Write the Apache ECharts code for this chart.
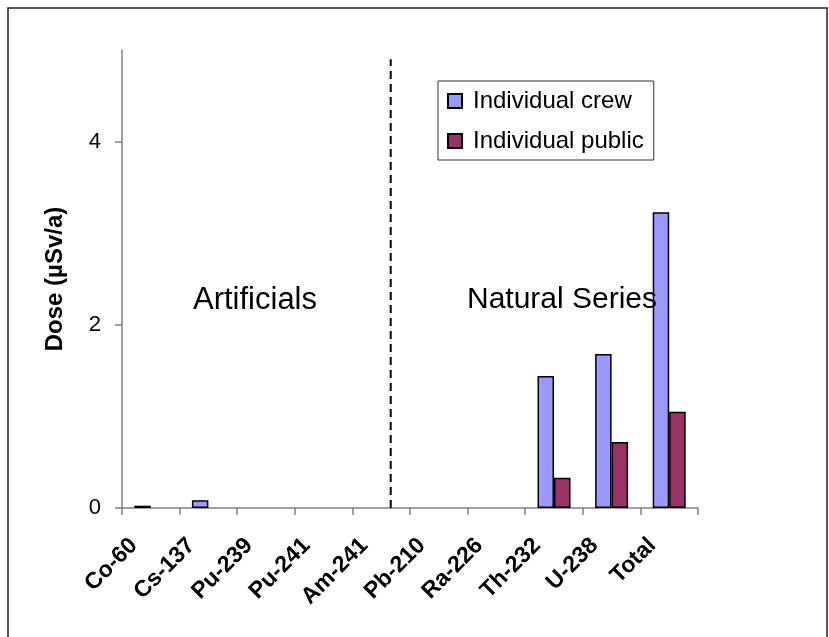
<!DOCTYPE html>
<html>
<head>
<meta charset="utf-8">
<script src="https://cdn.jsdelivr.net/npm/echarts@6/dist/echarts.min.js"></script>
<style>
    html, body { margin: 0; padding: 0; background: #fff; }
    #containerDose { width: 829px; height: 637px; }
</style>
</head>
<body>
<div id="containerDose"></div>
<script>
/// dados
var $nuclideos = ['Co-60', 'Cs-137', 'Pu-239', 'Pu-241', 'Am-241', 'Pb-210', 'Ra-226', 'Th-232', 'U-238', 'Total'];
var $crew = [0.025, 0.085, 0, 0, 0, 0, 0, 1.44, 1.68, 3.23];
var $publico = [0, 0, 0, 0, 0, 0, 0, 0.33, 0.72, 1.05];
var $yTicks = [0, 2, 4];
var $nomesLegenda = ['Individual crew', 'Individual public'];
var $divisao = [[4.665, 0], [4.665, 4.9]]; // linha tracejada entre artificiais e naturais

var $fonte = "'Liberation Sans', Arial, sans-serif";

// zero = sem barra (senao a borda preta aparece em cima do eixo)
function semZero(arr) {
    return arr.map(function (v) { return v === 0 ? '-' : v; });
}

var chartOption = {
    backgroundColor: '#fff',
    animation: false,
    textStyle: {
        fontFamily: $fonte,
        color: '#000',
    },
    grid: {
        left: 122,
        top: 50,
        width: 576,
        bottom: 129,
        containLabel: false,
    },
    legend: {
        data: $nomesLegenda,
        orient: 'vertical',
        left: 438,
        top: 81,
        width: 214,
        height: 79,
        padding: [8, 10, 7, 9],
        itemWidth: 14,
        itemHeight: 14,
        itemGap: 16,
        icon: 'rect',
        borderColor: '#333',
        borderWidth: 1,
        textStyle: {
            fontSize: 24,
            lineHeight: 24,
            color: '#000',
            padding: [0, 0, 0, 6],
        },
    },
    xAxis: [{
        type: 'category',
        data: $nuclideos,
        axisLine: {
            lineStyle: { color: '#808080', width: 1.5 },
        },
        axisTick: {
            show: true,
            interval: 0,
            length: 7,
            lineStyle: { color: '#808080', width: 1.5 },
        },
        axisLabel: {
            interval: 0,
            rotate: 45,
            margin: 17,
            fontSize: 23,
            fontWeight: 'bold',
            color: '#000',
            padding: [0, 24, 0, 0],
        },
        splitLine: { show: false },
    }, {
        // eixo escondido so para posicionar a linha tracejada
        type: 'value',
        min: 0,
        max: 10,
        show: false,
    }],
    yAxis: {
        type: 'value',
        min: 0,
        max: 5,
        interval: 2,
        name: 'Dose (µSv/a)',
        nameLocation: 'middle',
        nameRotate: 90,
        nameGap: 55,
        nameTextStyle: {
            fontSize: 24,
            fontWeight: 'bold',
            color: '#000',
        },
        axisLine: {
            show: true,
            lineStyle: { color: '#808080', width: 1.5 },
        },
        axisTick: {
            show: true,
            length: 7,
            customValues: $yTicks,
            lineStyle: { color: '#808080', width: 1.5 },
        },
        axisLabel: {
            customValues: $yTicks,
            margin: 21,
            fontSize: 22,
            color: '#000',
        },
        splitLine: { show: false },
    },
    graphic: [{
        type: 'rect',
        shape: { x: 8, y: 8, width: 819, height: 640 },
        style: { fill: 'none', stroke: '#222', lineWidth: 1.5 },
        silent: true,
    }, {
        type: 'text',
        x: 255,
        y: 300,
        z: 100,
        style: {
            text: 'Artificials',
            fontSize: 31,
            fontFamily: $fonte,
            fill: '#000',
            textAlign: 'center',
            textVerticalAlign: 'middle',
        },
    }, {
        type: 'text',
        x: 562,
        y: 300,
        z: 100,
        style: {
            text: 'Natural Series',
            fontSize: 30,
            fontFamily: $fonte,
            fill: '#000',
            textAlign: 'center',
            textVerticalAlign: 'middle',
        },
    }],
    series: [{
        name: $nomesLegenda[0],
        type: 'bar',
        data: semZero($crew),
        barWidth: 16.5,
        barGap: '0%',
        itemStyle: {
            color: '#9999FF',
            borderColor: '#000',
            borderWidth: 1.5,
        },
    }, {
        name: $nomesLegenda[1],
        type: 'bar',
        data: semZero($publico),
        barWidth: 16.5,
        barGap: '0%',
        itemStyle: {
            color: '#993366',
            borderColor: '#000',
            borderWidth: 1.5,
        },
    }, {
        type: 'line',
        xAxisIndex: 1,
        data: $divisao,
        symbol: 'none',
        silent: true,
        lineStyle: {
            color: '#000',
            width: 2,
            type: [8, 5],
        },
        z: 5,
    }]
};

var doseChart = echarts.init(document.getElementById('containerDose'));
doseChart.setOption(chartOption);
</script>
</body>
</html>
